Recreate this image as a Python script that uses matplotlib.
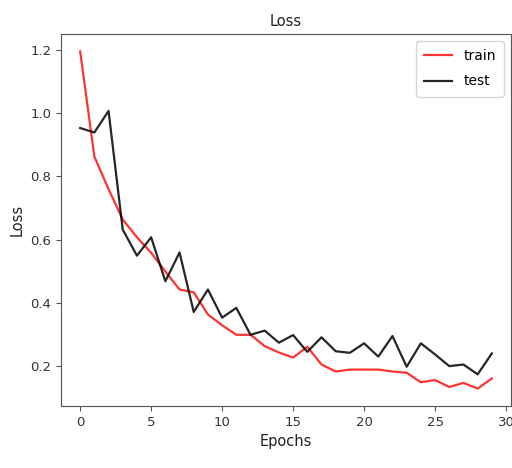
import matplotlib
matplotlib.use("Agg")
import matplotlib.pyplot as plt

epochs = list(range(30))
train_loss = [1.195, 0.863, 0.760, 0.664, 0.608, 0.559, 0.500, 0.443, 0.434, 0.364,
              0.330, 0.300, 0.300, 0.264, 0.244, 0.228, 0.262, 0.206, 0.184, 0.190,
              0.190, 0.190, 0.184, 0.180, 0.150, 0.157, 0.135, 0.148, 0.130, 0.162]
test_loss = [0.953, 0.939, 1.007, 0.632, 0.550, 0.608, 0.469, 0.560, 0.372, 0.443,
             0.354, 0.385, 0.300, 0.313, 0.275, 0.299, 0.246, 0.292, 0.248, 0.243,
             0.273, 0.231, 0.296, 0.199, 0.273, 0.238, 0.201, 0.206, 0.175, 0.241]
xticks = [0, 5, 10, 15, 20, 25, 30]
yticks = [0.2, 0.4, 0.6, 0.8, 1.0, 1.2]

plt.rcParams['font.family'] = ['DejaVu Sans']
fig = plt.figure(figsize=(5.12, 4.68), dpi=100)
ax = fig.add_axes([61/512, 1-406/468, 450/512, 372/468])
ax.plot(epochs, train_loss, color='red', alpha=0.8, lw=1.6, label='train')
ax.plot(epochs, test_loss, color='black', alpha=0.85, lw=1.6, label='test')
ax.set_xticks(xticks)
ax.set_yticks(yticks)
ax.set_xlim(-1.35, 30.35)
ax.set_ylim(0.075, 1.25)
for s in ax.spines.values():
    s.set_color('#555555')
ax.tick_params(colors='#333333', labelsize=9.5, length=3.5, color='#555555')
ax.set_title('Loss', fontsize=10.5, color='#222222')
ax.set_xlabel('Epochs', fontsize=10.5, color='#222222')
ax.set_ylabel('Loss', fontsize=10.5, color='#222222')
leg = ax.legend(loc='upper right', fontsize=10, handlelength=2, labelspacing=0.8,
                borderpad=0.6)
fig.savefig('out.png', dpi=100)
